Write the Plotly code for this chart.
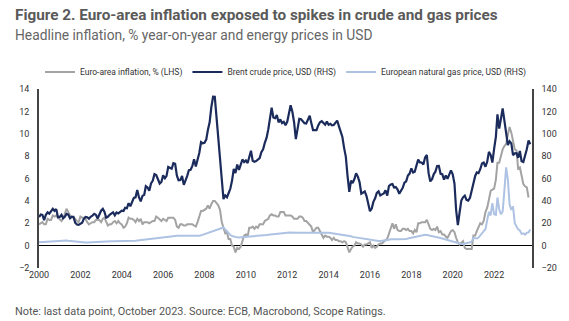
import pandas as pd
import plotly.graph_objects as go

# Euro-area HICP inflation, % y/y (monthly, Jan 2000 onwards)
inflation = [
    1.9, 2.0, 2.1, 1.9, 1.9, 2.4, 2.3, 2.3, 2.7, 2.6, 2.7, 2.5,
    2.3, 2.2, 2.4, 2.9, 3.3, 3.0, 2.7, 2.6, 2.5, 2.4, 2.2, 2.1,
    2.6, 2.5, 2.5, 2.4, 2.1, 1.9, 2.0, 2.1, 2.1, 2.3, 2.3, 2.3,
    2.1, 2.4, 2.5, 2.1, 1.8, 1.9, 1.9, 2.1, 2.2, 2.0, 2.2, 2.0,
    1.9, 1.6, 1.7, 2.0, 2.5, 2.4, 2.4, 2.3, 2.1, 2.4, 2.2, 2.4,
    1.9, 2.1, 2.1, 2.1, 2.0, 2.1, 2.2, 2.2, 2.6, 2.5, 2.3, 2.2,
    2.4, 2.3, 2.2, 2.5, 2.5, 2.5, 2.5, 2.3, 1.7, 1.6, 1.9, 1.9,
    1.8, 1.8, 1.9, 1.9, 1.9, 1.9, 1.8, 1.7, 2.1, 2.6, 3.1, 3.1,
    3.2, 3.3, 3.6, 3.3, 3.7, 4.0, 4.0, 3.8, 3.6, 3.2, 2.1, 1.6,
    1.1, 1.2, 0.6, 0.6, 0.0, -0.1, -0.6, -0.2, -0.3, -0.1, 0.5, 0.9,
    1.0, 0.8, 1.6, 1.6, 1.7, 1.5, 1.7, 1.6, 1.9, 1.9, 1.9, 2.2,
    2.3, 2.4, 2.7, 2.8, 2.7, 2.7, 2.6, 2.6, 3.0, 3.0, 3.0, 2.7,
    2.7, 2.7, 2.7, 2.6, 2.4, 2.4, 2.4, 2.6, 2.6, 2.5, 2.2, 2.2,
    2.0, 1.8, 1.7, 1.2, 1.4, 1.6, 1.6, 1.3, 1.1, 0.7, 0.9, 0.8,
    0.8, 0.7, 0.5, 0.7, 0.5, 0.5, 0.4, 0.4, 0.3, 0.4, 0.3, -0.2,
    -0.6, -0.3, -0.1, 0.0, 0.3, 0.2, 0.2, 0.1, -0.1, 0.1, 0.1, 0.2,
    0.3, -0.2, 0.0, -0.2, -0.1, 0.1, 0.2, 0.2, 0.4, 0.5, 0.6, 1.1,
    1.7, 2.0, 1.5, 1.9, 1.4, 1.3, 1.3, 1.5, 1.5, 1.4, 1.5, 1.3,
    1.3, 1.1, 1.4, 1.2, 2.0, 2.0, 2.1, 2.1, 2.1, 2.3, 1.9, 1.5,
    1.4, 1.5, 1.4, 1.7, 1.2, 1.3, 1.0, 1.0, 0.8, 0.7, 1.0, 1.3,
    1.4, 1.2, 0.7, 0.3, 0.1, 0.3, 0.4, -0.2, -0.3, -0.3, -0.3, -0.3,
    0.9, 0.9, 1.3, 1.6, 2.0, 1.9, 2.2, 3.0, 3.4, 4.1, 4.9, 5.0,
    5.1, 5.9, 7.4, 7.4, 8.1, 8.6, 8.9, 9.1, 9.9, 10.6, 10.1, 9.2,
    8.6, 8.5, 6.9, 7.0, 6.1, 5.5, 5.3, 5.2, 4.3,
]

# Brent crude, USD per barrel (monthly average)
brent = [
    25.5, 27.8, 27.5, 22.8, 27.6, 29.8, 28.6, 30.4, 32.9, 31.1, 32.6, 25.3,
    25.6, 27.5, 24.5, 25.7, 28.4, 27.7, 24.5, 25.7, 25.7, 20.5, 18.9, 18.6,
    19.5, 20.5, 23.7, 25.7, 25.4, 24.1, 25.8, 26.7, 28.4, 27.5, 24.3, 28.0,
    31.2, 32.8, 30.3, 25.0, 25.8, 27.6, 28.4, 29.8, 27.1, 29.6, 28.8, 29.8,
    31.2, 30.9, 33.8, 33.4, 37.9, 35.2, 38.2, 42.7, 43.2, 49.8, 43.1, 39.6,
    44.5, 45.5, 53.1, 51.9, 49.0, 55.6, 57.9, 63.9, 63.1, 59.5, 55.5, 56.9,
    62.8, 60.2, 62.1, 70.3, 69.8, 68.7, 73.7, 73.2, 62.5, 58.4, 58.6, 62.3,
    54.3, 57.8, 62.1, 67.5, 67.8, 71.3, 77.2, 70.8, 77.1, 82.8, 92.5, 91.5,
    91.9, 94.8, 103.3, 110.2, 123.9, 133.1, 133.0, 113.2, 98.0, 72.8, 53.2, 41.6,
    44.9, 43.2, 46.8, 50.8, 57.9, 68.6, 64.9, 72.5, 67.7, 73.2, 77.0, 74.7,
    76.2, 73.8, 78.8, 84.8, 75.9, 75.0, 75.6, 77.1, 78.2, 83.5, 86.1, 91.8,
    96.3, 104.0, 114.6, 123.3, 114.5, 113.9, 116.7, 110.2, 112.8, 109.6, 110.7, 107.7,
    110.7, 119.3, 125.5, 119.7, 110.3, 95.2, 102.6, 113.4, 113.0, 111.5, 109.5, 109.2,
    112.3, 116.1, 109.5, 103.3, 103.3, 103.3, 107.4, 110.3, 111.2, 109.5, 108.1, 111.0,
    108.1, 108.9, 107.5, 107.8, 109.5, 111.8, 106.8, 101.6, 97.1, 87.4, 79.4, 62.3,
    48.1, 58.1, 55.9, 59.5, 64.6, 61.7, 56.8, 46.5, 47.6, 48.4, 44.3, 38.0,
    30.8, 33.2, 39.1, 42.3, 47.1, 48.5, 44.9, 45.8, 46.6, 49.5, 44.7, 53.3,
    54.6, 55.0, 51.9, 52.3, 50.3, 46.4, 48.5, 51.7, 56.2, 57.5, 62.7, 64.4,
    69.1, 65.3, 66.0, 72.1, 76.9, 74.4, 74.3, 72.5, 78.9, 81.0, 64.8, 57.4,
    59.4, 64.0, 66.1, 71.2, 71.3, 64.2, 63.9, 59.0, 62.8, 59.7, 63.2, 67.3,
    63.7, 55.5, 32.0, 18.4, 29.4, 40.3, 43.2, 44.7, 40.9, 40.2, 42.7, 49.9,
    54.8, 62.3, 65.4, 64.8, 68.3, 73.4, 74.3, 70.5, 74.9, 83.8, 81.1, 74.2,
    86.5, 97.1, 117.3, 104.6, 113.3, 122.7, 111.9, 100.5, 89.8, 93.3, 91.4, 80.9,
    82.5, 82.6, 78.5, 84.6, 75.5, 74.8, 80.1, 86.2, 94.0, 90.6,
]

# European natural gas, USD (monthly average)
gas = [
    3.0, 3.1, 3.2, 3.3, 3.4, 3.5, 3.6, 3.7, 3.9, 4.1, 4.3, 4.5,
    4.6, 4.8, 4.9, 4.8, 4.5, 4.3, 4.1, 4.0, 3.8, 3.6, 3.4, 3.3,
    3.1, 3.0, 2.9, 2.8, 2.8, 2.9, 2.9, 3.0, 3.1, 3.2, 3.4, 3.5,
    3.6, 3.8, 4.0, 4.1, 4.0, 3.9, 3.8, 3.8, 3.8, 3.9, 4.0, 4.1,
    4.1, 4.0, 4.0, 4.0, 4.0, 4.1, 4.2, 4.3, 4.4, 4.6, 4.8, 5.0,
    5.2, 5.4, 5.5, 5.7, 5.9, 6.1, 6.4, 6.6, 6.9, 7.2, 7.5, 7.8,
    8.0, 8.2, 8.3, 8.4, 8.5, 8.6, 8.6, 8.7, 8.8, 8.8, 8.8, 8.7,
    8.6, 8.5, 8.4, 8.4, 8.3, 8.3, 8.4, 8.5, 8.6, 8.8, 9.2, 9.7,
    10.2, 10.7, 11.2, 11.8, 12.4, 13.0, 13.6, 14.2, 14.8, 15.4, 15.8, 16.2,
    14.5, 12.5, 10.8, 9.5, 8.6, 8.0, 7.6, 7.4, 7.3, 7.4, 7.6, 7.8,
    8.0, 8.1, 8.2, 8.2, 8.3, 8.4, 8.5, 8.6, 8.7, 8.8, 9.0, 9.2,
    9.5, 9.8, 10.0, 10.3, 10.5, 10.7, 10.9, 11.0, 11.1, 11.2, 11.4, 11.5,
    11.6, 11.7, 11.8, 11.8, 11.8, 11.7, 11.6, 11.5, 11.5, 11.6, 11.7, 11.8,
    11.9, 12.0, 12.0, 11.9, 11.8, 11.7, 11.7, 11.6, 11.6, 11.6, 11.6, 11.6,
    11.5, 11.3, 11.1, 10.8, 10.5, 10.3, 10.1, 9.9, 9.8, 9.6, 9.4, 9.2,
    8.8, 8.3, 7.8, 7.5, 7.3, 7.1, 6.9, 6.7, 6.5, 6.3, 6.1, 5.8,
    5.2, 4.7, 4.4, 4.2, 4.1, 4.1, 4.2, 4.3, 4.4, 4.6, 4.9, 5.2,
    5.6, 5.8, 5.8, 5.7, 5.6, 5.6, 5.6, 5.7, 5.8, 6.0, 6.3, 6.6,
    7.5, 7.8, 8.0, 8.3, 8.6, 9.0, 9.3, 9.6, 9.7, 9.5, 9.2, 8.8,
    8.8, 8.5, 8.2, 7.8, 7.3, 6.8, 6.3, 5.8, 5.3, 4.8, 4.3, 3.8,
    3.4, 3.0, 2.6, 2.2, 1.8, 1.5, 1.5, 1.7, 2.0, 2.5, 3.0, 3.5,
    7.0, 6.4, 6.4, 7.2, 8.9, 10.4, 12.3, 14.8, 22.8, 30.0, 27.0, 38.0,
    28.0, 27.5, 43.0, 32.5, 28.0, 30.5, 49.0, 70.0, 59.0, 37.0, 32.0, 35.0,
    20.0, 16.5, 14.5, 13.5, 10.5, 11.0, 9.8, 11.5, 11.8, 14.5,
]

start = "2000-01-01"
tick_years = list(range(2000, 2023, 2))

names = [
    "Euro-area inflation, % (LHS)",
    "Brent crude price, USD (RHS)",
    "European natural gas price, USD (RHS)",
]
colors = ["#a3a3a3", "#1b2b5b", "#aec2e3"]


def months(n):
    return pd.date_range(start, periods=n, freq="MS")


fig = go.Figure()
fig.add_trace(go.Scatter(
    x=months(len(gas)), y=gas, name=names[2], yaxis="y2", mode="lines",
    line=dict(color=colors[2], width=2), legendrank=3,
))
fig.add_trace(go.Scatter(
    x=months(len(inflation)), y=inflation, name=names[0], mode="lines",
    line=dict(color=colors[0], width=2), legendrank=1,
))
fig.add_trace(go.Scatter(
    x=months(len(brent)), y=brent, name=names[1], yaxis="y2", mode="lines",
    line=dict(color=colors[1], width=2.2), legendrank=2,
))

tick_font = dict(family="Roboto, Arial, sans-serif", size=9, color="#333333")

fig.update_layout(
    width=569, height=321,
    margin=dict(l=39, r=34, t=89, b=53),
    paper_bgcolor="white", plot_bgcolor="white",
    showlegend=True,
    legend=dict(
        orientation="h", x=0.5, xanchor="center", y=1.095, yanchor="middle",
        font=dict(family="Roboto, Arial, sans-serif", size=8.5, color="#333333"),
        itemwidth=30, tracegroupgap=0, bgcolor="rgba(0,0,0,0)",
    ),
    xaxis=dict(
        range=["2000-01-01", "2023-11-01"],
        tickvals=[f"{y}-01-01" for y in tick_years],
        ticktext=[str(y) for y in tick_years],
        showgrid=False, showline=False, zeroline=False, ticks="",
        tickfont=tick_font,
    ),
    yaxis=dict(
        range=[-2, 14], dtick=2, showgrid=False,
        showline=True, linecolor="#444444", linewidth=1.5,
        zeroline=True, zerolinecolor="#000000", zerolinewidth=1,
        ticks="", ticklabelstandoff=6, tickfont=tick_font,
    ),
    yaxis2=dict(
        range=[-20, 140], dtick=20, overlaying="y", side="right",
        showgrid=False, showline=True, linecolor="#444444", linewidth=1.5,
        zeroline=False, ticks="", ticklabelstandoff=6, tickfont=tick_font,
    ),
    annotations=[
        dict(text="<b>Figure 2. Euro-area inflation exposed to spikes in crude and gas prices</b>",
             xref="paper", yref="paper", x=-39 / 496, y=1 + (89 - 15) / 179,
             xanchor="left", yanchor="middle", showarrow=False, xshift=13,
             font=dict(family="Roboto, Arial, sans-serif", size=15.3, color="#5a5a5a")),
        dict(text="Headline inflation, % year-on-year and energy prices in USD",
             xref="paper", yref="paper", x=-39 / 496, y=1 + (89 - 35) / 179,
             xanchor="left", yanchor="middle", showarrow=False, xshift=13,
             font=dict(family="Roboto, Arial, sans-serif", size=13.8, color="#666666")),
        dict(text="Note: last data point, October 2023. Source: ECB, Macrobond, Scope Ratings.",
             xref="paper", yref="paper", x=-39 / 496, y=-(311 - 268) / 179,
             xanchor="left", yanchor="middle", showarrow=False, xshift=13,
             font=dict(family="Roboto, Arial, sans-serif", size=10.9, color="#555555")),
    ],
)

fig.write_html("out.html")
